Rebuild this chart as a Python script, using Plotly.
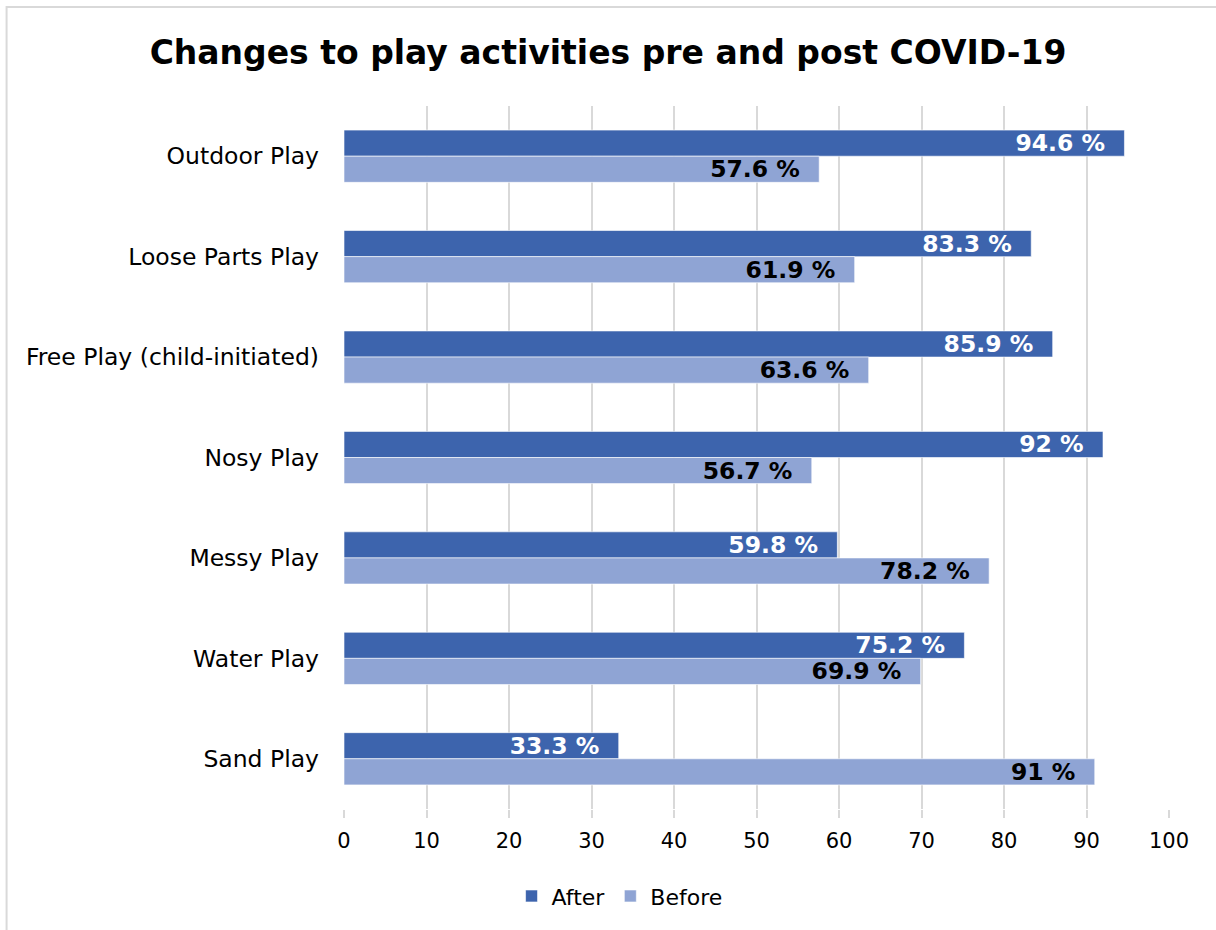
import plotly.graph_objects as go

categories = ["Outdoor Play", "Loose Parts Play", "Free Play (child-initiated)", "Nosy Play",
              "Messy Play", "Water Play", "Sand Play"]
after = [94.6, 83.3, 85.9, 92, 59.8, 75.2, 33.3]
before = [57.6, 61.9, 63.6, 56.7, 78.2, 69.9, 91]
x_ticks = [0, 10, 20, 30, 40, 50, 60, 70, 80, 90, 100]

FONT = "DejaVu Sans"
C_AFTER = "#3D64AD"
C_BEFORE = "#8FA4D4"
PAD = "\u00a0\u00a0"

fig = go.Figure()
fig.add_trace(go.Bar(
    y=categories, x=after, name="After", orientation="h",
    marker=dict(color=C_AFTER, line=dict(color="rgba(255,255,255,0.6)", width=1)),
    text=[f"{v:g} %{PAD}" for v in after], textposition="inside", insidetextanchor="end",
    constraintext="none",
    textfont=dict(family=FONT, size=23.5, color="white", weight="bold"),
    cliponaxis=False,
))
fig.add_trace(go.Bar(
    y=categories, x=before, name="Before", orientation="h",
    marker=dict(color=C_BEFORE, line=dict(color="rgba(255,255,255,0.6)", width=1)),
    text=[f"{v:g} %{PAD}" for v in before], textposition="inside", insidetextanchor="end",
    constraintext="none",
    textfont=dict(family=FONT, size=23.5, color="black", weight="bold"),
    cliponaxis=False,
))

fig.update_layout(
    width=1216, height=930,
    barmode="group", bargap=0.48, bargroupgap=0,
    paper_bgcolor="white", plot_bgcolor="white",
    margin=dict(l=344, r=47, t=106, b=121, autoexpand=False),
    title=dict(text="<b>Changes to play activities pre and post COVID-19</b>",
               x=0.5, xanchor="center", y=0.944, yanchor="middle",
               font=dict(family=FONT, size=33, color="black")),
    font=dict(family=FONT, size=21, color="black"),
    legend=dict(orientation="h", x=0.334, xanchor="center",
                y=-0.124, yanchor="middle",
                font=dict(family=FONT, size=22, color="black"), traceorder="normal",
                itemwidth=30),
    xaxis=dict(range=[0, 100], tickvals=x_ticks, ticktext=[str(t) for t in x_ticks],
               showgrid=True, gridcolor="#D9D9D9", gridwidth=2,
               ticks="outside", ticklen=8, tickcolor="#D9D9D9", tickwidth=2,
               zeroline=False, showline=False, ticklabelstandoff=5,
               tickfont=dict(family=FONT, size=21, color="black")),
    yaxis=dict(categoryorder="array", categoryarray=categories, autorange="reversed",
               showgrid=False, showline=False, ticks="", ticklabelstandoff=24,
               tickfont=dict(family=FONT, size=23.5, color="black")),
    shapes=[dict(type="rect", xref="paper", yref="paper",
                 x0=-0.409, x1=1.2, y0=-0.3, y1=1.141,
                 line=dict(color="#D9D9D9", width=2), fillcolor="rgba(0,0,0,0)", layer="below")],
)

fig.write_html("out.html", config={"displayModeBar": False},
               post_script="document.body.style.margin='0';")
